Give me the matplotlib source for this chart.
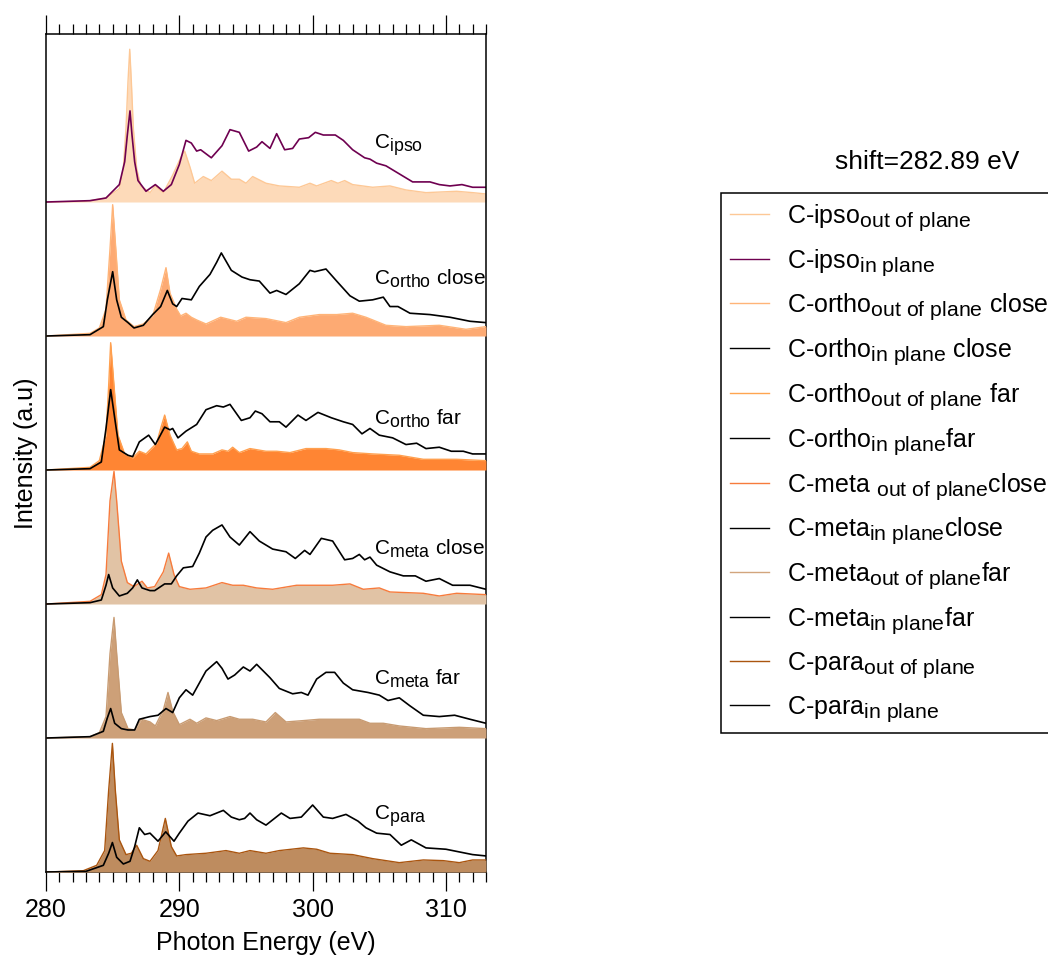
"""
NEXAFS C K-edge spectra, out-of-plane (filled) vs in-plane (line),
stacked per carbon site.  Output: out.png
"""

import matplotlib
matplotlib.use("Agg")
import matplotlib.pyplot as plt
import matplotlib as mpl
import matplotlib._mathtext as mathtext_impl
from matplotlib.ticker import MultipleLocator

mpl.rcParams.update({
    'font.family':      'Liberation Sans',
    'mathtext.fontset': 'custom',
    'mathtext.rm':      'Liberation Sans',
    'mathtext.it':      'Liberation Sans:italic',
    'font.size':        18,
})
# subscripts in the original are larger than mathtext's default 0.7
mathtext_impl.SHRINK_FACTOR = 0.85

# ---- spectra (photon energy eV, intensity above own baseline) ----
ipso_out_x = [280, 283, 284.5, 285.5, 285.8, 286.0, 286.15, 286.28, 286.4, 286.55, 286.8, 287.1,
              287.8, 288.2, 288.8, 289.5, 290.1, 290.4, 290.8, 291.15, 291.8, 292.4, 293.2,
              293.9, 294.5, 295.0, 295.5, 296.5, 297.5, 299.0, 299.8, 300.3, 301.4, 301.9,
              302.4, 303.0, 304.5, 305.8, 307.0, 308.5, 310.8, 312, 313]
ipso_out_y = [0, 0.005, 0.03, 0.1, 0.25, 0.55, 0.9, 1.14, 0.9, 0.55, 0.25, 0.12,
              0.07, 0.12, 0.07, 0.2, 0.33, 0.38, 0.26, 0.14, 0.19, 0.16, 0.23,
              0.17, 0.17, 0.14, 0.19, 0.14, 0.12, 0.11, 0.14, 0.12, 0.16, 0.14,
              0.16, 0.13, 0.11, 0.12, 0.09, 0.07, 0.08, 0.07, 0.06]

ipso_in_x = [280, 283.3, 284.5, 285.5, 285.9, 286.1, 286.3, 286.45, 286.65, 286.9, 287.5, 288.2,
             288.8, 289.4, 290.0, 290.5, 290.9, 291.3, 291.6, 292.4, 293.2, 293.8, 294.5,
             295.2, 295.8, 296.2, 296.8, 297.3, 297.9, 298.5, 299.0, 299.7, 300.2, 300.8,
             301.7, 302.3, 303.0, 303.9, 304.3, 304.8, 305.5, 306.5, 307.5, 308.8, 309.5,
             310.3, 311.2, 312.0, 313]
ipso_in_y = [0, 0.01, 0.03, 0.13, 0.3, 0.5, 0.68, 0.5, 0.3, 0.16, 0.08, 0.13,
             0.08, 0.13, 0.28, 0.46, 0.44, 0.38, 0.39, 0.33, 0.42, 0.54, 0.52,
             0.38, 0.41, 0.45, 0.40, 0.51, 0.39, 0.40, 0.47, 0.48, 0.52, 0.50,
             0.50, 0.46, 0.39, 0.33, 0.32, 0.29, 0.27, 0.21, 0.15, 0.15, 0.13,
             0.12, 0.13, 0.11, 0.11]

ortho_close_out_x = [280, 283.3, 284.0, 284.5, 284.8, 285.0, 285.2, 285.5, 286.0, 286.6, 287.3,
                     288.0, 288.6, 289.0, 289.3, 289.8, 290.1, 290.5, 290.9, 291.3, 292.0,
                     293.1, 294.3, 295.0, 296.5, 298.0, 299.0, 300.5, 301.8, 303.0, 304.0,
                     305.5, 307.0, 309.5, 311.5, 313]
ortho_close_out_y = [0, 0.02, 0.06, 0.2, 0.65, 0.98, 0.7, 0.27, 0.12, 0.07, 0.09,
                     0.15, 0.35, 0.51, 0.32, 0.2, 0.15, 0.17, 0.14, 0.12, 0.09,
                     0.14, 0.11, 0.14, 0.13, 0.10, 0.14, 0.16, 0.16, 0.17, 0.14,
                     0.08, 0.07, 0.08, 0.05, 0.07]

ortho_close_in_x = [280, 283.3, 284.3, 284.6, 285.0, 285.3, 285.65, 286.15, 286.6, 287.3, 288.0,
                    288.6, 289.1, 289.5, 289.8, 290.2, 290.9, 291.5, 292.3, 292.8, 293.15,
                    293.9, 294.7, 295.3, 296.0, 296.8, 297.3, 298.0, 299.0, 299.8, 300.15,
                    301.0, 301.8, 302.8, 303.5, 304.5, 305.3, 305.8, 306.4, 307.3, 308.8,
                    310.3, 311.8, 313]
ortho_close_in_y = [0, 0.01, 0.07, 0.27, 0.48, 0.27, 0.14, 0.1, 0.06, 0.08, 0.16,
                    0.22, 0.34, 0.24, 0.22, 0.28, 0.27, 0.37, 0.46, 0.55, 0.62,
                    0.49, 0.44, 0.42, 0.41, 0.32, 0.34, 0.31, 0.39, 0.49, 0.48,
                    0.50, 0.41, 0.30, 0.26, 0.27, 0.29, 0.22, 0.22, 0.17, 0.16,
                    0.14, 0.11, 0.1]

ortho_far_out_x = [280, 283.3, 284.0, 284.5, 284.7, 284.85, 285.1, 285.4, 285.9, 286.5, 287.0,
                   287.5, 288.3, 288.6, 288.9, 289.3, 289.8, 290.2, 290.6, 290.9, 291.5,
                   292.5, 293.2, 293.65, 294.0, 294.5, 295.3, 296.5, 297.3, 298.3, 299.5,
                   301.0, 302.0, 303.0, 304.5, 306.5, 308.3, 310.8, 313]
ortho_far_out_y = [0, 0.02, 0.07, 0.26, 0.63, 0.95, 0.63, 0.26, 0.12, 0.09, 0.14,
                   0.12, 0.2, 0.31, 0.41, 0.26, 0.15, 0.16, 0.21, 0.14, 0.12,
                   0.12, 0.15, 0.14, 0.17, 0.13, 0.16, 0.14, 0.14, 0.13, 0.16,
                   0.16, 0.15, 0.13, 0.12, 0.11, 0.08, 0.08, 0.07]

ortho_far_in_x = [280, 283.3, 284.15, 284.5, 284.85, 285.15, 285.5, 286.15, 286.5, 287.0, 287.7,
                  288.2, 288.9, 289.3, 289.5, 289.9, 290.5, 291.3, 292.0, 292.8, 293.3,
                  293.8, 294.65, 295.3, 295.7, 296.2, 296.8, 297.5, 298.0, 298.9, 299.5,
                  300.4, 301.4, 302.3, 303.0, 303.7, 304.3, 305.0, 306.0, 307.0, 307.8,
                  308.5, 309.5, 310.4, 311.3, 312.0, 313]
ortho_far_in_y = [0, 0.01, 0.06, 0.31, 0.6, 0.39, 0.15, 0.11, 0.1, 0.21, 0.26,
                  0.19, 0.32, 0.30, 0.31, 0.24, 0.29, 0.34, 0.45, 0.48, 0.47,
                  0.49, 0.37, 0.39, 0.44, 0.42, 0.36, 0.36, 0.32, 0.41, 0.37,
                  0.43, 0.39, 0.36, 0.34, 0.27, 0.31, 0.26, 0.24, 0.19, 0.2,
                  0.16, 0.17, 0.14, 0.14, 0.12, 0.12]

meta_close_out_x = [280, 283.3, 284.15, 284.5, 284.8, 285.1, 285.3, 285.65, 286.1, 286.6, 287.2,
                    287.6, 288.15, 288.8, 289.2, 289.6, 290.0, 290.8, 292.0, 293.2, 294.0,
                    294.8, 295.8, 297.0, 298.8, 300.0, 301.5, 302.8, 303.8, 305.0, 305.8,
                    308.3, 309.5, 310.8, 313]
meta_close_out_y = [0, 0.02, 0.07, 0.22, 0.77, 0.99, 0.77, 0.32, 0.16, 0.13, 0.17,
                    0.12, 0.13, 0.24, 0.38, 0.22, 0.13, 0.11, 0.12, 0.16, 0.14,
                    0.14, 0.12, 0.11, 0.14, 0.14, 0.14, 0.15, 0.11, 0.12, 0.09,
                    0.08, 0.06, 0.08, 0.07]

meta_close_in_x = [280, 283.3, 284.15, 284.5, 284.7, 285.0, 285.5, 286.1, 286.5, 286.85, 287.2,
                   287.8, 288.15, 288.9, 289.4, 289.8, 290.3, 291.0, 291.5, 292.0, 292.5,
                   293.2, 293.8, 294.5, 295.3, 296.0, 297.0, 298.0, 298.7, 299.4, 299.8,
                   300.65, 301.5, 302.4, 303.0, 303.5, 303.9, 304.3, 304.8, 305.8, 306.8,
                   307.7, 308.5, 309.5, 310.5, 311.8, 313]
meta_close_in_y = [0, 0.01, 0.03, 0.14, 0.22, 0.12, 0.06, 0.08, 0.12, 0.18, 0.12,
                   0.1, 0.1, 0.15, 0.15, 0.21, 0.27, 0.28, 0.38, 0.5, 0.55,
                   0.59, 0.5, 0.44, 0.54, 0.47, 0.41, 0.39, 0.34, 0.40, 0.37,
                   0.49, 0.47, 0.33, 0.34, 0.37, 0.33, 0.35, 0.29, 0.24, 0.21,
                   0.21, 0.17, 0.19, 0.14, 0.14, 0.11]

meta_far_out_x = [280, 283.3, 284.0, 284.5, 284.8, 285.1, 285.3, 285.65, 286.15, 286.65, 287.15,
                  287.8, 288.2, 288.8, 289.15, 289.5, 290.0, 290.8, 291.3, 292.0, 292.8,
                  293.8, 294.5, 295.5, 296.5, 297.2, 298.0, 299.3, 300.5, 302.0, 303.5,
                  304.3, 305.3, 306.5, 308.5, 311.0, 313]
meta_far_out_y = [0, 0.01, 0.04, 0.16, 0.63, 0.9, 0.63, 0.19, 0.07, 0.06, 0.14,
                  0.12, 0.09, 0.21, 0.34, 0.2, 0.1, 0.14, 0.11, 0.15, 0.13,
                  0.16, 0.14, 0.14, 0.12, 0.19, 0.12, 0.13, 0.14, 0.14, 0.14,
                  0.11, 0.11, 0.09, 0.07, 0.08, 0.07]

meta_far_in_x = [280, 283.3, 284.3, 284.6, 284.85, 285.15, 285.65, 286.15, 286.65, 287.0, 287.8,
                 288.4, 289.0, 289.5, 290.0, 290.5, 291.0, 291.5, 292.0, 292.8, 293.2,
                 293.65, 294.15, 294.8, 295.3, 295.8, 296.8, 297.5, 298.5, 299.15, 299.65,
                 300.3, 301.0, 301.65, 302.3, 303.0, 304.15, 305.0, 305.65, 306.5, 307.3,
                 308.3, 309.5, 310.65, 311.8, 313]
meta_far_in_y = [0, 0.01, 0.05, 0.15, 0.22, 0.11, 0.07, 0.06, 0.06, 0.14, 0.16,
                 0.17, 0.22, 0.19, 0.3, 0.36, 0.32, 0.41, 0.5, 0.57, 0.52,
                 0.44, 0.47, 0.53, 0.5, 0.55, 0.45, 0.37, 0.33, 0.34, 0.32,
                 0.44, 0.49, 0.49, 0.41, 0.36, 0.34, 0.32, 0.28, 0.3, 0.24,
                 0.17, 0.16, 0.17, 0.14, 0.11]

para_out_x = [280, 282.8, 283.8, 284.4, 284.7, 284.98, 285.2, 285.5, 286.0, 286.4, 286.8,
              287.3, 287.8, 288.4, 288.95, 289.4, 289.8, 290.5, 292.0, 293.5, 294.5,
              295.3, 296.5, 297.5, 299.3, 300.3, 301.3, 303.0, 304.5, 306.5, 308.3,
              309.8, 311.0, 312.0, 313]
para_out_y = [0, 0.01, 0.05, 0.16, 0.61, 0.96, 0.61, 0.24, 0.13, 0.14, 0.2,
              0.1, 0.08, 0.16, 0.4, 0.19, 0.12, 0.13, 0.14, 0.16, 0.14,
              0.16, 0.14, 0.16, 0.18, 0.17, 0.14, 0.13, 0.10, 0.07, 0.09,
              0.085, 0.07, 0.09, 0.09]

para_in_x = [280, 283.0, 284.3, 284.7, 284.98, 285.3, 285.8, 286.3, 286.65, 287.0, 287.4,
             287.8, 288.4, 288.98, 289.6, 290.0, 290.65, 291.4, 292.3, 293.3, 293.9,
             294.5, 294.9, 295.3, 295.8, 296.5, 297.65, 298.3, 299.15, 300.0, 300.8,
             301.5, 302.5, 303.4, 304.0, 304.8, 305.8, 306.65, 307.4, 308.5, 310.0,
             311.0, 312.0, 313]
para_in_y = [0, 0.005, 0.05, 0.14, 0.22, 0.11, 0.06, 0.08, 0.19, 0.33, 0.28,
             0.29, 0.23, 0.3, 0.23, 0.29, 0.38, 0.44, 0.42, 0.46, 0.41,
             0.39, 0.40, 0.44, 0.39, 0.35, 0.44, 0.40, 0.41, 0.5, 0.41,
             0.40, 0.43, 0.38, 0.33, 0.29, 0.28, 0.2, 0.24, 0.18, 0.17,
             0.15, 0.13, 0.12]

shift_ev = 282.89

# panels top -> bottom: (out x, out y, in x, in y, fill, edge, in colour,
#                        out label, in label, panel label, label height)
panels = [
    (ipso_out_x, ipso_out_y, ipso_in_x, ipso_in_y, '#FDDAB9', '#FDC896', '#6E0050',
     r'C-ipso$_{\mathrm{out\ of\ plane}}$', r'C-ipso$_{\mathrm{in\ plane}}$',
     r'C$_{\mathrm{ipso}}$', 0.40),
    (ortho_close_out_x, ortho_close_out_y, ortho_close_in_x, ortho_close_in_y,
     '#FDAA73', '#FFB478', 'black',
     r'C-ortho$_{\mathrm{out\ of\ plane}}$ close', r'C-ortho$_{\mathrm{in\ plane}}$ close',
     r'C$_{\mathrm{ortho}}$ close', 0.38),
    (ortho_far_out_x, ortho_far_out_y, ortho_far_in_x, ortho_far_in_y,
     '#FF8533', '#FFA04F', 'black',
     r'C-ortho$_{\mathrm{out\ of\ plane}}$ far', r'C-ortho$_{\mathrm{in\ plane}}$far',
     r'C$_{\mathrm{ortho}}$ far', 0.34),
    (meta_close_out_x, meta_close_out_y, meta_close_in_x, meta_close_in_y,
     '#E1C3A5', '#F77B3C', 'black',
     r'C-meta $_{\mathrm{out\ of\ plane}}$close', r'C-meta$_{\mathrm{in\ plane}}$close',
     r'C$_{\mathrm{meta}}$ close', 0.37),
    (meta_far_out_x, meta_far_out_y, meta_far_in_x, meta_far_in_y,
     '#CDA078', '#C89B72', 'black',
     r'C-meta$_{\mathrm{out\ of\ plane}}$far', r'C-meta$_{\mathrm{in\ plane}}$far',
     r'C$_{\mathrm{meta}}$ far', 0.40),
    (para_out_x, para_out_y, para_in_x, para_in_y,
     '#BE8C5F', '#AA550F', 'black',
     r'C-para$_{\mathrm{out\ of\ plane}}$', r'C-para$_{\mathrm{in\ plane}}$',
     r'C$_{\mathrm{para}}$', 0.39),
]
legend_edge = ['#FDC896', '#FFB478', '#FFA550', '#F77B3C', '#D2A57D', '#AA550F']

fig = plt.figure(figsize=(10.48, 9.57), dpi=100)
ax = fig.add_axes([0.0439, 0.0888, 0.4198, 0.8757])

handles = []
n = len(panels)
for i, (ox, oy, ix, iy, fcol, ecol, icol, olab, ilab, plab, ly) in enumerate(panels):
    off = n - 1 - i
    oy_s = [v + off for v in oy]
    iy_s = [v + off for v in iy]
    ax.fill_between(ox, off, oy_s, color=fcol, lw=0, zorder=2 + i)
    ax.plot(ox, oy_s, color=ecol, lw=1.0, zorder=2 + i)
    ax.plot(ix, iy_s, color=icol, lw=1.2, zorder=2.5 + i)
    h_out, = ax.plot([], [], color=legend_edge[i], lw=1.0, label=olab)
    h_in, = ax.plot([], [], color=icol, lw=1.0, label=ilab)
    handles += [h_out, h_in]
    ax.text(304.6, off + ly, plab, fontsize=15, ha='left', va='baseline', zorder=20)

ax.set_xlim(280, 313)
ax.set_ylim(0, 6.254)
ax.set_yticks([])
ax.xaxis.set_major_locator(MultipleLocator(10))
ax.xaxis.set_minor_locator(MultipleLocator(1))
ax.tick_params(axis='x', which='major', direction='out', length=13.5, width=0.9,
               top=True, labeltop=False, labelsize=18, pad=5)
ax.tick_params(axis='x', which='minor', direction='out', length=7, width=0.9, top=True)
for sp in ax.spines.values():
    sp.set_linewidth(1.1)

ax.set_xlabel('Photon Energy (eV)', fontsize=18, labelpad=7)
ax.set_ylabel('Intensity (a.u)', fontsize=18, labelpad=6)

fig.text(927 / 1048, 1 - 162 / 957, f'shift={shift_ev} eV', fontsize=19,
         ha='center', va='center')
leg = fig.legend(handles=handles, loc='upper left',
                 bbox_to_anchor=(721 / 1048, 1 - 193 / 957),
                 fontsize=18, frameon=True, fancybox=False, framealpha=1,
                 edgecolor='black', borderaxespad=0, borderpad=0.35,
                 handlelength=1.55, handletextpad=0.75, labelspacing=0.555)
leg.get_frame().set_linewidth(1.1)

fig.savefig('out.png', dpi=100)
